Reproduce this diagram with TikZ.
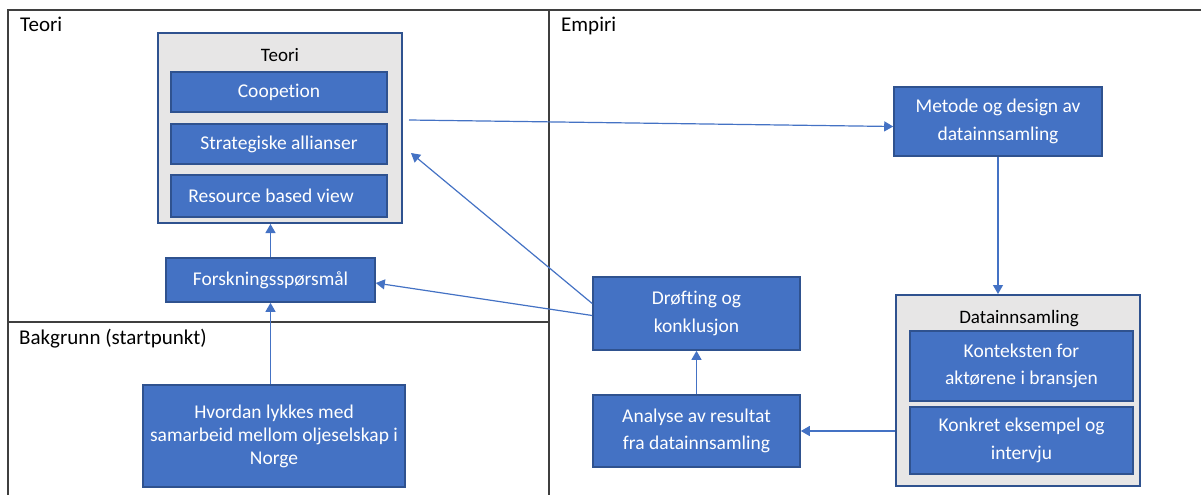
\documentclass[tikz,border=0pt]{standalone}
\usepackage{fontspec}
\setmainfont[Ligatures=NoCommon]{Carlito}
\usetikzlibrary{arrows.meta,calc}
\definecolor{boxblue}{HTML}{4472C4}
\definecolor{boxedge}{HTML}{2F528F}
\definecolor{groupgray}{HTML}{E7E6E6}
\definecolor{frameline}{HTML}{3F3F3F}
\tikzset{
  frame/.style={draw=frameline, line width=1.5pt},
  blk/.style={draw=boxedge, fill=boxblue, line width=1.6pt, text=white,
    font=\fontsize{19.5}{27.5}\selectfont, align=center, inner sep=0pt},
  tight/.style={font=\fontsize{19.5}{23}\selectfont},
  grp/.style={draw=boxedge, fill=groupgray, line width=2pt, inner sep=0pt},
  sect/.style={anchor=base west, font=\fontsize{21}{25}\selectfont, inner sep=0pt},
  glabel/.style={font=\fontsize{19}{23}\selectfont, inner sep=0pt},
  link/.style={draw=boxblue, line width=1.2pt, -{Triangle[width=10pt,length=9pt]}},
}
\begin{document}
\begin{tikzpicture}[x=1pt,y=-1pt]
\useasboundingbox (0,0) rectangle (1201,495);

% section frame
\draw[frame] (1201,10) -- (8,10) -- (8,495);
\draw[frame] (549,10) -- (549,495);
\draw[frame] (8,322) -- (549,322);

\node[sect] (lteori) at (20,32) {Teori};
\node[sect] (lempiri) at (561,32) {Empiri};
\node[sect] (lbakgrunn) at (19,344) {Bakgrunn (startpunkt)};

% theory group
\node[grp, minimum width=244, minimum height=190] (teorigrp) at (280,128) {};
\node[glabel] (teorilbl) at (280,55) {Teori};
\node[blk, minimum width=216, minimum height=40] (coop) at (279,92) {\raisebox{-3pt}{Coopetion}};
\node[blk, minimum width=216, minimum height=40] (strat) at (279,144) {\raisebox{-2pt}{Strategiske allianser}};
\node[blk, minimum width=216, minimum height=42] (rbv) at (279,196) {Resource based view\hspace{16pt}};

% research question and background
\node[blk, minimum width=209, minimum height=44] (forsk) at (270.5,280) {Forskningsspørsmål};
\node[blk, tight, minimum width=262, minimum height=102] (hvordan) at (274,436)
  {Hvordan lykkes med\\samarbeid mellom oljeselskap i\\Norge};

% empirical part
\node[blk, minimum width=208, minimum height=69] (metode) at (998,121.5)
  {Metode og design av\\datainnsamling};
\node[grp, minimum width=244, minimum height=191] (datainn) at (1018,390.5) {};
\node[glabel] (datainnlbl) at (1019,319) {Datainnsamling};
\node[blk, minimum width=223, minimum height=70] (kontekst) at (1021.5,366)
  {Konteksten for\\aktørene i bransjen};
\node[blk, minimum width=223, minimum height=67] (konkret) at (1021.5,440.5)
  {Konkret eksempel og\\intervju};
\node[blk, minimum width=207, minimum height=73] (drofting) at (696.5,313.5)
  {Drøfting og\\konklusjon};
\node[blk, minimum width=207, minimum height=72] (analyse) at (696.5,431)
  {Analyse av resultat\\fra datainnsamling};

% connectors
\draw[link] (forsk.south |- hvordan.north) -- (forsk.south);
\draw[link] (forsk.north) -- (forsk.north |- teorigrp.south);
\draw[link] ([xshift=6pt,yshift=8pt]teorigrp.east) -- ([yshift=-5pt]metode.west);
\draw[link] (metode.south) -- (metode.south |- datainn.north);
\draw[link] (datainn.west |- analyse.east) -- (analyse.east);
\draw[link] (analyse.north) -- (drofting.south);
\draw[link] ([yshift=-2pt]drofting.west) -- ([yshift=-3pt]forsk.east);
\draw[link] ([yshift=10pt]drofting.west) -- ([xshift=8pt,yshift=-25pt]teorigrp.east);
\end{tikzpicture}
\end{document}
